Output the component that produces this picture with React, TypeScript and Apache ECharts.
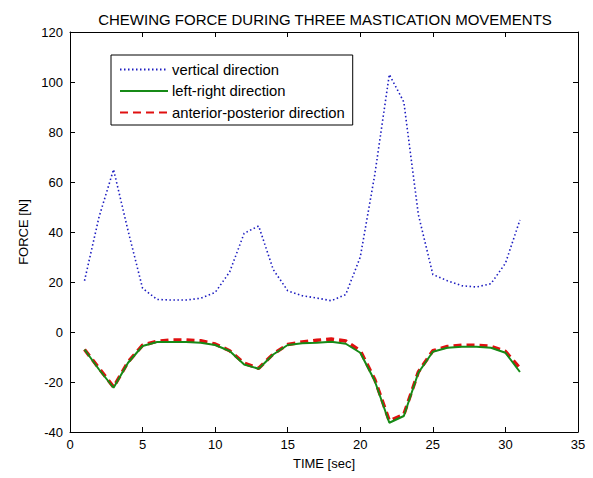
import React, { useEffect, useRef } from "react";
import * as echarts from "echarts";

const timeSec = [1,2,3,4,5,6,7,8,9,10,11,12,13,14,15,16,17,18,19,20,21,22,23,24,25,26,27,28,29,30,31];
const vertical = [20.5,46,65,40.5,17.5,13,12.8,12.8,13.5,15.8,24,39.5,42.4,25,16.5,14.5,13.6,12.5,15,30,63,103,92,47,23,20.5,18.5,18,19.3,27.5,44.8];
const leftRight = [-7,-15,-22.3,-12.3,-5.6,-4,-4,-4,-4.3,-5.2,-7.6,-13,-14.7,-9,-5.2,-4.5,-4.3,-3.9,-4.7,-8.3,-19.6,-36.3,-33.6,-16.3,-7.9,-6.3,-5.9,-5.9,-6.3,-8.3,-16];
const anteriorPosterior = [-7,-14.5,-22,-12,-5.3,-3.7,-3.2,-3.2,-3.5,-4.8,-7.5,-12.5,-14.5,-8.8,-5,-4,-3.3,-2.8,-3.6,-7.5,-19,-35.5,-33,-16,-7.5,-5.8,-5.3,-5.3,-5.7,-7.8,-14.5];
const seriesNames = ["vertical direction", "left-right direction", "anterior-posterior direction"];

const FONT = "'Liberation Sans', Arial, sans-serif";

export default function App() {
  const ref = useRef<HTMLDivElement>(null);
  useEffect(() => {
    if (!ref.current) return;
    const chart = echarts.init(ref.current, undefined, { renderer: "svg" });
    const pair = (ys: number[]) => timeSec.map((t, i) => [t, ys[i]]);
    const axisCommon = {
      axisLine: { show: true, onZero: false, lineStyle: { color: "#000", width: 1 } },
      axisTick: { show: true, inside: true, length: 5, lineStyle: { color: "#000" } },
      splitLine: { show: false },
    };
    chart.setOption({
      animation: false,
      backgroundColor: "#fff",
      textStyle: { fontFamily: FONT },
      title: {
        text: "CHEWING FORCE DURING THREE MASTICATION MOVEMENTS",
        left: 320,
        textAlign: "center",
        top: 7,
        textStyle: { fontFamily: FONT, fontSize: 15, fontWeight: "normal", color: "#000" },
      },
      grid: { left: 70, right: 15, top: 32, bottom: 46 },
      legend: {
        orient: "vertical",
        left: 111,
        top: 55,
        itemWidth: 48,
        itemHeight: 15,
        itemGap: 6.5,
        padding: [7, 8, 5, 8],
        borderColor: "#000",
        borderWidth: 1,
        backgroundColor: "#fff",
        itemStyle: { opacity: 0 },
        textStyle: { fontFamily: FONT, fontSize: 14.8, color: "#000", padding: [0, 0, 0, -1] },
        data: seriesNames,
      },
      xAxis: [
        {
          type: "value", min: 0, max: 35, interval: 5, position: "bottom",
          name: "TIME [sec]", nameLocation: "middle", nameGap: 25,
          nameTextStyle: { fontFamily: FONT, fontSize: 13, color: "#000" },
          axisLabel: { color: "#000", fontSize: 13, fontFamily: FONT, margin: 6 },
          ...axisCommon,
        },
        {
          type: "value", min: 0, max: 35, interval: 5, position: "top",
          axisLabel: { show: false },
          ...axisCommon,
        },
      ],
      yAxis: [
        {
          type: "value", min: -40, max: 120, interval: 20, position: "left",
          name: "FORCE [N]", nameLocation: "middle", nameGap: 29,
          nameTextStyle: { fontFamily: FONT, fontSize: 13, color: "#000" },
          axisLabel: { color: "#000", fontSize: 13, fontFamily: FONT, margin: 7 },
          ...axisCommon,
        },
        {
          type: "value", min: -40, max: 120, interval: 20, position: "right",
          axisLabel: { show: false },
          ...axisCommon,
        },
      ],
      series: [
        {
          name: seriesNames[0], type: "line", data: pair(vertical), symbol: "none", z: 2,
          lineStyle: { color: "#1c1cc0", width: 1.6, type: [1.5, 2.5] },
          itemStyle: { color: "#1c1cc0" },
        },
        {
          name: seriesNames[1], type: "line", data: pair(leftRight), symbol: "none", z: 4,
          lineStyle: { color: "#168a16", width: 2, type: "solid" },
          itemStyle: { color: "#168a16" },
        },
        {
          name: seriesNames[2], type: "line", data: pair(anteriorPosterior), symbol: "none", z: 3,
          lineStyle: { color: "#e01010", width: 3.5, type: [8, 5] },
          itemStyle: { color: "#e01010" },
        },
      ],
    });
    return () => chart.dispose();
  }, []);
  return <div ref={ref} style={{ width: 593, height: 478, position: "absolute", left: 0, top: 0 }} />;
}
